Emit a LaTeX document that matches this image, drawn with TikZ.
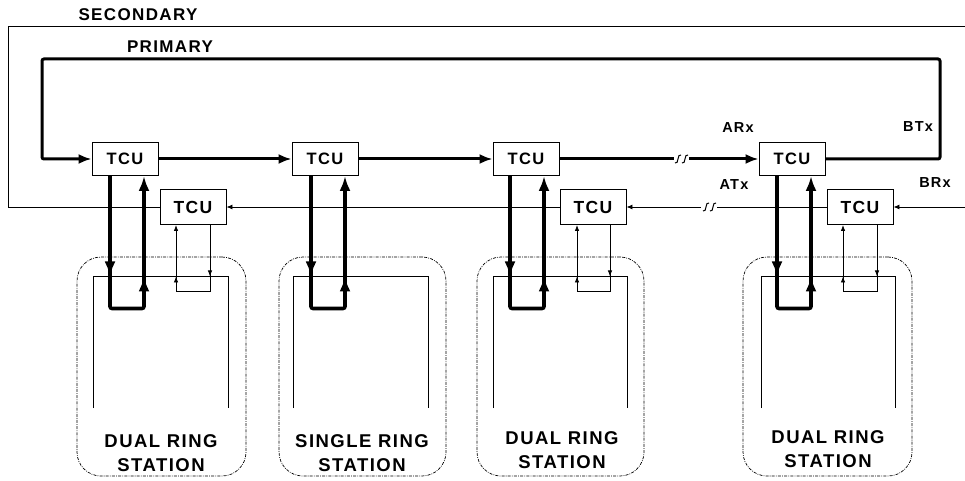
\documentclass[tikz,border=0pt]{standalone}
\usepackage{fontspec}
\setmainfont{Liberation Sans}[LetterSpace=8]
\usetikzlibrary{arrows.meta}
\begin{document}
\begin{tikzpicture}[x=1pt,y=-1pt,
  tcu/.style={draw,line width=0.9pt,minimum width=66pt,minimum height=33pt,inner sep=0pt,font=\fontsize{16.5}{16.5}\selectfont\bfseries},
  tcus/.style={tcu,minimum height=35pt,font=\fontsize{17.5}{17.5}\selectfont\bfseries},
  lbl/.style={font=\fontsize{14.5}{14.5}\selectfont\bfseries,inner sep=0pt},
  stlbl/.style={font=\fontsize{18.5}{24}\selectfont\bfseries,align=center,inner sep=0pt},
  prim/.style={line width=3pt},
  vth/.style={line width=3.6pt},
  sec/.style={line width=0.9pt},
  thinl/.style={line width=0.8pt},
  brk/.style={line width=1pt},
  bigarrow/.style={-{Latex[length=13pt,width=10pt]}},
  vtharrow/.style={-{Latex[length=15pt,width=11pt]}},
  secarrow/.style={-{Latex[length=6pt,width=5pt]}},
  smallarrow/.style={-{Latex[length=6pt,width=4.5pt]}},
  station/.style={draw,line width=0.7pt,rounded corners=24pt,inner sep=0pt,
    dash pattern=on 3pt off 1.2pt on 0.8pt off 1.2pt},
]
\useasboundingbox (0,0) rectangle (965,481);

% ---------- station boxes ----------
\node[station,minimum width=169pt,minimum height=219pt] (st1) at (161.5,366.5) {};
\node[station,minimum width=167pt,minimum height=219pt] (st2) at (362.5,366.5) {};
\node[station,minimum width=167pt,minimum height=219pt] (st3) at (560.5,366.5) {};
\node[station,minimum width=169pt,minimum height=219pt] (st4) at (827.5,366.5) {};

\node[stlbl] (l1) at (161,453) {DUAL RING\\STATION};
\node[stlbl] (l2) at (362,453) {SINGLE RING\\STATION};
\node[stlbl] (l3) at (562,450) {DUAL RING\\STATION};
\node[stlbl] (l4) at (828,449) {DUAL RING\\STATION};

% inner station frames (open at bottom)
\draw[thinl] (93,408) -- (93,276) -- (228,276) -- (228,408);
\draw[thinl] (293,408) -- (293,276) -- (428,276) -- (428,408);
\draw[thinl] (493,408) -- (493,276) -- (627,276) -- (627,408);
\draw[thinl] (761,408) -- (761,276) -- (895,276) -- (895,408);

% ---------- TCUs ----------
\node[tcu] (tP1) at (125,159) {TCU};
\node[tcu] (tP2) at (325,159) {TCU};
\node[tcu] (tP3) at (526,159) {TCU};
\node[tcu] (tP4) at (792,159) {TCU};
\node[tcus] (tS1) at (193,207) {TCU};
\node[tcus] (tS3) at (593,207) {TCU};
\node[tcus] (tS4) at (860,207) {TCU};

% ---------- ring coordinates ----------
\coordinate (pTR) at (940,59);
\coordinate (pTL) at (42,59);
\coordinate (sTL) at (8,26);
\coordinate (sTR) at (965,26);
\coordinate (sR) at (965,207);
\coordinate (bA1) at (674,159);
\coordinate (bA2) at (689,159);
\coordinate (bB1) at (701,207);
\coordinate (bB2) at (717,207);

% ---------- secondary ring ----------
\draw[sec,secarrow] (sR) -- (tS4.east);
\draw[sec] (tS4.west) -- (bB2);
\draw[brk] (bB2) ++(-7,4) .. controls ++(4,2) and ++(-4,-2) .. ++(6,-8);
\draw[brk] (bB2) ++(-14,4) .. controls ++(4,2) and ++(-4,-2) .. ++(6,-8);
\draw[sec,secarrow] (bB1) -- (tS3.east);
\draw[sec,secarrow] (tS3.west) -- (tS1.east);
\draw[sec] (tS1.west) -| (sTL) -- (sTR);

% ---------- primary ring ----------
\draw[prim,bigarrow,rounded corners=2pt] (tP4.east) -| (pTR) -- (pTL) |- (tP1.west);
\draw[prim,bigarrow] (tP1.east) -- (tP2.west);
\draw[prim,bigarrow] (tP2.east) -- (tP3.west);
\draw[prim] (tP3.east) -- (bA1);
\draw[brk] (bA2) ++(-7,4) .. controls ++(4,2) and ++(-4,-2) .. ++(6,-8);
\draw[brk] (bA2) ++(-14,4) .. controls ++(4,2) and ++(-4,-2) .. ++(6,-8);
\draw[prim,bigarrow] (bA2) -- (tP4.west);

% ---------- thick station loops (primary) ----------
\foreach \n/\a/\b in {1/-15/19, 2/-14/20, 3/-16/18, 4/-15/19}{
  \draw[vth,vtharrow,rounded corners=2pt] ([xshift=\a pt]tP\n.south) -- ++(0,132.5) -| ([xshift=\b pt]tP\n.south);
  \draw[vth,vtharrow] ([xshift=\a pt]tP\n.south) ++(0,80) -- ++(0,20.5);
  \draw[vth,vtharrow] ([xshift=\b pt]tP\n.south) ++(0,125) -- ++(0,-24.5);
}

% ---------- thin station loops (secondary) ----------
\foreach \n/\a/\b in {1/-17/17, 3/-16/17, 4/-17/17}{
  \draw[thinl,smallarrow] ([xshift=\b pt]tS\n.south) -- ++(0,66.5) -| ([xshift=\a pt]tS\n.south);
  \draw[thinl,smallarrow] ([xshift=\b pt]tS\n.south) ++(0,40) -- ++(0,11.5);
  \draw[thinl,smallarrow] ([xshift=\a pt]tS\n.south) ++(0,62) -- ++(0,-10.5);
}

% ---------- labels ----------
\node[lbl,font=\fontsize{17}{17}\selectfont\bfseries] (secl) at (138,15) {SECONDARY};
\node[lbl,font=\fontsize{17}{17}\selectfont\bfseries] (priml) at (170,47) {PRIMARY};
\node[lbl] (arx) at (738,128) {ARx};
\node[lbl] (btx) at (918,127) {BTx};
\node[lbl] (atx) at (734,185) {ATx};
\node[lbl] (brx) at (935,183) {BRx};
\end{tikzpicture}
\end{document}
